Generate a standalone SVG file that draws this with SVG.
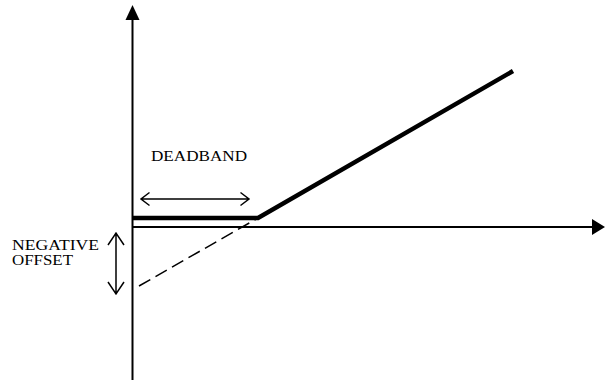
<svg xmlns="http://www.w3.org/2000/svg" width="605" height="380" viewBox="0 0 605 380">
<style>
.axis{stroke:#000;stroke-width:2;fill:none}
.thin{stroke:#000;stroke-width:1.5;fill:none}
.thick{stroke:#000;stroke-width:4.5;fill:none;stroke-linejoin:miter}
.dash{stroke:#000;stroke-width:1.5;fill:none;stroke-dasharray:13,6}
.lbl{font-family:"Liberation Serif","Times New Roman",serif;font-size:15px;fill:#000}
.sm{font-size:14px}
</style>
<rect width="605" height="380" fill="#fff"/>
<g id="connectors">
<line class="axis" x1="132.5" y1="380" x2="132.5" y2="18"/>
<polygon points="132.5,5 125.5,20 139.5,20" fill="#000"/>
<line class="axis" x1="132" y1="227" x2="593" y2="227"/>
<polygon points="605,227 592,219 592,235" fill="#000"/>
<line class="dash" x1="139" y1="286" x2="258" y2="218"/>
<polyline class="thick" points="133,218 258,218 513,71"/>
<path class="thin" d="M141,199 H249 M149.5,192.5 L141,199 L149.5,205.5 M240.5,192.5 L249,199 L240.5,205.5"/>
<path class="thin" d="M116,233 V294 M108,245 L116,233 L124,245 M108,282 L116,294 L124,282"/>
</g>
<g id="deadband"><text class="lbl" x="151" y="160.5" textLength="96" lengthAdjust="spacingAndGlyphs">DEADBAND</text></g>
<g id="offset"><text class="lbl sm" x="12" y="250" textLength="87" lengthAdjust="spacingAndGlyphs">NEGATIVE</text><text class="lbl sm" x="12" y="265" textLength="61" lengthAdjust="spacingAndGlyphs">OFFSET</text></g>
</svg>
